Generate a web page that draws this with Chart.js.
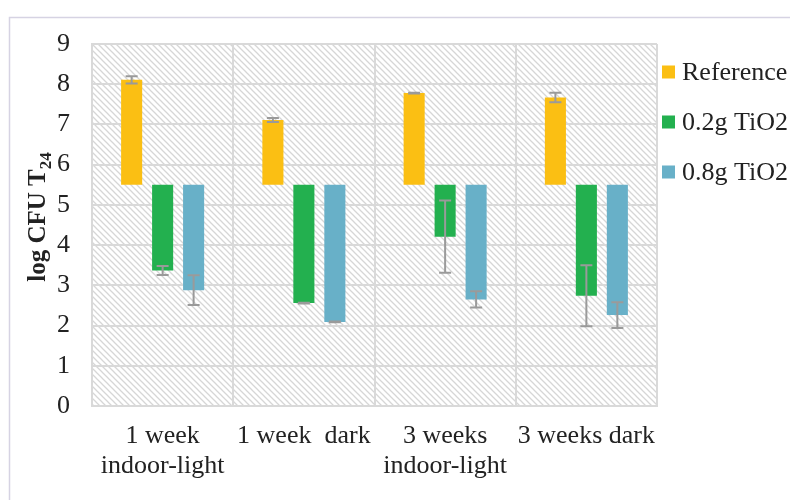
<!DOCTYPE html>
<html>
<head>
<meta charset="utf-8">
<script src="https://cdn.jsdelivr.net/npm/chart.js@4.4.1/dist/chart.umd.min.js"></script>
<style>
  html, body { margin: 0; padding: 0; background: #fff; }
  #wrap { width: 790px; height: 500px; position: relative; }
</style>
</head>
<body>
<div id="wrap"><canvas id="chart"></canvas></div>
<script>
/* ─── Datos ───────────────────────────────────────── */
const categories = [['1 week', 'indoor-light'], '1 week  dark', ['3 weeks', 'indoor-light'], '3 weeks dark'];
const baseline = 5.5;
const refValues  = [8.11, 7.11, 7.78, 7.67];
const refErrors  = [0.09, 0.05, 0.01, 0.12];
const low02Values = [3.37, 2.56, 4.21, 2.74];
const low02Errors = [0.11, 0.01, 0.90, 0.76];
const high08Values = [2.88, 2.09, 2.65, 2.26];
const high08Errors = [0.37, 0.01, 0.20, 0.32];
const yTicks = [0, 1, 2, 3, 4, 5, 6, 7, 8, 9];

const COLORS = {
  ref:   '#FBBF13',
  green: '#23B04F',
  blue:  '#68B0C8',
  grid:  '#d9d9d9',
  err:   '#9a9a9a',
  text:  '#222222',
};
const SERIF = "'Liberation Serif', 'Times New Roman', serif";
const FS = 26;

/* ─── Fondo rayado del área de trazado ────────────── */
function makeHatch() {
  const c = document.createElement('canvas');
  c.width = 6; c.height = 6;
  const g = c.getContext('2d');
  g.fillStyle = '#ffffff';
  g.fillRect(0, 0, 6, 6);
  g.strokeStyle = '#d6d6d6';
  g.lineWidth = 1.3;
  g.beginPath();
  g.moveTo(-1, -1); g.lineTo(7, 7);
  g.moveTo(-1, 5);  g.lineTo(1, 7);
  g.moveTo(5, -1);  g.lineTo(7, 1);
  g.stroke();
  return g.createPattern(c, 'repeat');
}

const hatchPlugin = {
  id: 'hatch',
  beforeDraw(chart) {
    const { ctx, chartArea: a } = chart;
    ctx.save();
    // marco exterior
    ctx.strokeStyle = '#d6d3e3';
    ctx.lineWidth = 1.5;
    ctx.strokeRect(9.5, 17.5, 820, 520);
    ctx.fillStyle = makeHatch();
    ctx.fillRect(a.left, a.top, a.right - a.left, a.bottom - a.top);
    ctx.restore();
  },
};

/* ─── Barras de error ─────────────────────────────── */
const errorSets = [refErrors, low02Errors, high08Errors];
const errorPlugin = {
  id: 'errbars',
  afterDatasetsDraw(chart) {
    const { ctx } = chart;
    const y = chart.scales.y;
    ctx.save();
    ctx.strokeStyle = COLORS.err;
    ctx.lineWidth = 2;
    chart.data.datasets.forEach((ds, i) => {
      const meta = chart.getDatasetMeta(i);
      meta.data.forEach((bar, j) => {
        const v = ds.data[j][1];
        const e = errorSets[i][j];
        const y1 = y.getPixelForValue(v + e);
        const y2 = y.getPixelForValue(v - e);
        ctx.beginPath();
        ctx.moveTo(bar.x, y1); ctx.lineTo(bar.x, y2);
        ctx.moveTo(bar.x - 6, y1); ctx.lineTo(bar.x + 6, y1);
        ctx.moveTo(bar.x - 6, y2); ctx.lineTo(bar.x + 6, y2);
        ctx.stroke();
      });
    });
    ctx.restore();
  },
};

/* ─── Título del eje Y (con subíndice) y leyenda ──── */
const labelsPlugin = {
  id: 'labels',
  afterDraw(chart) {
    const { ctx, chartArea: a } = chart;
    ctx.save();
    // título eje Y
    const main = 'log CFU T';
    const sub = '24';
    ctx.font = `bold 25px ${SERIF}`;
    const wMain = ctx.measureText(main).width;
    ctx.font = `bold 17px ${SERIF}`;
    const wSub = ctx.measureText(sub).width;
    const total = wMain + wSub;
    ctx.translate(45, (a.top + a.bottom) / 2 - 8);
    ctx.rotate(-Math.PI / 2);
    ctx.fillStyle = COLORS.text;
    ctx.textBaseline = 'alphabetic';
    ctx.textAlign = 'left';
    ctx.font = `bold 25px ${SERIF}`;
    ctx.fillText(main, -total / 2, 0);
    ctx.font = `bold 17px ${SERIF}`;
    ctx.fillText(sub, -total / 2 + wMain, 6);
    ctx.restore();

    // leyenda
    ctx.save();
    ctx.font = `${FS}px ${SERIF}`;
    ctx.textBaseline = 'middle';
    ctx.textAlign = 'left';
    chart.data.datasets.forEach((ds, i) => {
      const cy = 72 + i * 50;
      ctx.fillStyle = ds.backgroundColor;
      ctx.fillRect(662, cy - 6.5, 13, 13);
      ctx.fillStyle = COLORS.text;
      ctx.fillText(ds.label, 682, cy + 1);
    });
    ctx.restore();
  },
};

/* ─── Gráfica ─────────────────────────────────────── */
const floating = vals => vals.map(v => [baseline, v]);

new Chart(document.getElementById('chart'), {
  type: 'bar',
  data: {
    labels: categories,
    datasets: [
      { label: 'Reference', data: floating(refValues),    backgroundColor: COLORS.ref },
      { label: '0.2g TiO2', data: floating(low02Values),  backgroundColor: COLORS.green },
      { label: '0.8g TiO2', data: floating(high08Values), backgroundColor: COLORS.blue },
    ],
  },
  options: {
    responsive: true,
    maintainAspectRatio: false,
    animation: false,
    categoryPercentage: 0.658,
    barPercentage: 0.68,
    layout: { padding: { top: 44, right: 133, left: 0, bottom: 0 } },
    plugins: {
      legend: { display: false },
      tooltip: { enabled: false },
    },
    scales: {
      x: {
        grid: { color: COLORS.grid, lineWidth: 2, drawTicks: false, offset: true },
        border: { color: COLORS.grid, width: 2 },
        ticks: {
          color: COLORS.text,
          font: { family: SERIF, size: FS, lineHeight: 1.12 },
          padding: 16,
          maxRotation: 0,
          autoSkip: false,
        },
        afterFit: s => { s.height = 94; },
      },
      y: {
        min: 0,
        max: 9,
        afterBuildTicks: s => { s.ticks = yTicks.map(v => ({ value: v })); },
        grid: { color: COLORS.grid, lineWidth: 2, drawTicks: false },
        border: { color: COLORS.grid, width: 2 },
        ticks: {
          color: COLORS.text,
          font: { family: SERIF, size: FS },
          padding: 22,
        },
        afterFit: s => { s.width = 92; },
      },
    },
  },
  plugins: [hatchPlugin, errorPlugin, labelsPlugin],
});
</script>
</body>
</html>
